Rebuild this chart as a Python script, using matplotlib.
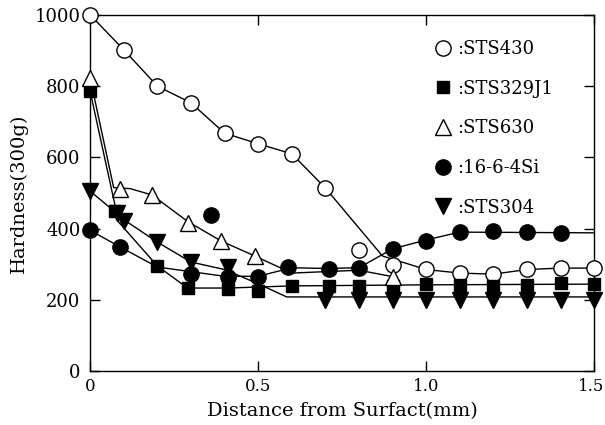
import matplotlib.pyplot as plt
import matplotlib.transforms as mtransforms
from matplotlib.lines import Line2D

plt.rcParams['font.family'] = ['DejaVu Serif']

# measured points (depth in mm, hardness)
sts430_x = [0, 0.1, 0.2, 0.3, 0.4, 0.5, 0.6, 0.7, 0.8, 0.9, 1.0, 1.1, 1.2, 1.3, 1.4, 1.5]
sts430_y = [1000, 902, 800, 753, 668, 638, 610, 514, 340, 298, 287, 275, 272, 287, 289, 289]

sts329_x = [0, 0.075, 0.2, 0.29, 0.41, 0.5, 0.6, 0.71, 0.8, 0.9, 1.0, 1.1, 1.2, 1.3, 1.4, 1.5]
sts329_y = [785, 450, 295, 233, 230, 225, 239, 239, 239, 239, 244, 241, 239, 241, 247, 244]

sts630_x = [0, 0.09, 0.185, 0.29, 0.39, 0.49, 0.9]
sts630_y = [823, 511, 494, 416, 365, 323, 265]

si_x = [0, 0.09, 0.3, 0.36, 0.41, 0.5, 0.59, 0.71, 0.8, 0.9, 1.0, 1.1, 1.2, 1.3, 1.4]
si_y = [395, 348, 272, 438, 264, 264, 292, 286, 289, 343, 365, 390, 393, 390, 388]

sts304_x = [0, 0.08, 0.1, 0.2, 0.3, 0.41, 0.7, 0.8, 0.9, 1.0, 1.1, 1.2, 1.3, 1.4, 1.5]
sts304_y = [505, 445, 420, 362, 306, 292, 200, 200, 200, 200, 200, 200, 200, 200, 200]

# hand-drawn fitted curves (vertices)
fit430_x = [0, 0.1, 0.2, 0.3, 0.4, 0.5, 0.6, 0.7, 0.87, 1.0, 1.1, 1.2, 1.3, 1.4, 1.5]
fit430_y = [1000, 902, 800, 753, 668, 638, 610, 514, 323, 285, 275, 272, 285, 289, 289]

fit329_x = [0, 0.085, 0.2, 0.29, 0.41, 0.6, 1.0, 1.5]
fit329_y = [785, 418, 295, 233, 233, 239, 242, 244]

fit630_x = [0, 0.07, 0.12, 0.185, 0.29, 0.39, 0.49, 0.6, 0.8, 0.9]
fit630_y = [823, 515, 512, 494, 420, 365, 323, 275, 283, 265]

fitsi_x = [0, 0.09, 0.2, 0.4, 0.5, 0.6, 0.7, 0.8, 0.9, 1.0, 1.1, 1.5]
fitsi_y = [395, 348, 292, 266, 266, 290, 288, 290, 343, 368, 390, 388]

fit304_x = [0, 0.07, 0.1, 0.2, 0.3, 0.4, 0.5, 0.585, 1.5]
fit304_y = [505, 450, 425, 362, 306, 285, 245, 208, 208]

series = [
    (sts430_x, sts430_y, fit430_x, fit430_y, 'o', 'white', ':STS430'),
    (sts329_x, sts329_y, fit329_x, fit329_y, 's', 'black', ':STS329J1'),
    (sts630_x, sts630_y, fit630_x, fit630_y, '^', 'white', ':STS630'),
    (si_x, si_y, fitsi_x, fitsi_y, 'o', 'black', ':16-6-4Si'),
    (sts304_x, sts304_y, fit304_x, fit304_y, 'v', 'black', ':STS304'),
]

fig = plt.figure(figsize=(6.05, 4.25), dpi=100)
ax = fig.add_axes([0.149, 0.127, 0.833, 0.838])

handles = []
for px, py, fx, fy, mk, fc, lab in series:
    ax.plot(fx, fy, color='black', lw=1.0, zorder=2)
    ms = 9 if mk == 's' else 11
    ax.plot(px, py, ls='none', marker=mk, ms=ms, mfc=fc, mec='black',
            mew=1.0, zorder=3, clip_on=False)
    handles.append(Line2D([], [], ls='none', marker=mk, ms=ms, mfc=fc,
                          mec='black', mew=1.0, label=lab))

ax.set_xlim(0, 1.5)
ax.set_ylim(0, 1000)
ax.set_xticks([0, 0.5, 1.0, 1.5])
ax.set_xticklabels(['0', '0.5', '1.0', '1.5'])
ax.set_yticks([0, 200, 400, 600, 800, 1000])
ax.tick_params(direction='in', length=7, width=1, top=True, right=True)
ax.tick_params(axis='y', pad=7, labelsize=13)
ax.tick_params(axis='x', pad=5, labelsize=12)
for s in ax.spines.values():
    s.set_linewidth(1.0)

# nudge the last x label so it stays inside the canvas
last = ax.get_xticklabels()[-1]
last.set_transform(last.get_transform() +
                   mtransforms.ScaledTranslation(-3 / 100, 0, fig.dpi_scale_trans))

ax.set_xlabel('Distance from Surfact(mm)', fontsize=14, labelpad=5)
ax.set_ylabel('Hardness(300g)', fontsize=14, labelpad=5)

ax.legend(handles=handles, loc='upper left', bbox_to_anchor=(0.668, 0.95),
          frameon=False, fontsize=13, handlelength=1.0, handletextpad=0.3,
          labelspacing=1.2, borderaxespad=0)

fig.savefig('out.png', dpi=100)
